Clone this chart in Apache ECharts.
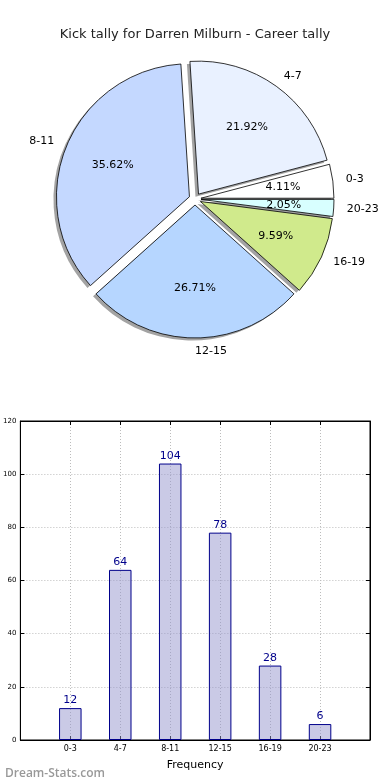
<!DOCTYPE html>
<html><head><meta charset="utf-8">
<script src="https://cdn.jsdelivr.net/npm/echarts@6/dist/echarts.min.js"></script>
<style>html,body{margin:0;padding:0;background:#fff}#c{width:390px;height:780px}</style>
</head><body><div id="c"></div>
<script>
const titleText = 'Kick tally for Darren Milburn - Career tally';
const categories = ['0-3', '4-7', '8-11', '12-15', '16-19', '20-23'];
const kickCounts = [12, 64, 104, 78, 28, 6];
const sliceColors = ['#ffffff', '#e9f1ff', '#c4d8ff', '#b6d6ff', '#d0ea8c', '#d8ffff'];
const yMin = 0, yMax = 120, yStep = 20;
const xAxisName = 'Frequency';
const watermark = 'Dream-Stats.com';

const FONT = 'DejaVu Sans';
const PIE_C = [195, 199], PIE_R = 133, EXPLODE = 6;

const pieData = (extra) => categories.map((c, i) => Object.assign({
  name: c, value: kickCounts[i], selected: true
}, extra ? extra(i) : {}));

const chart = echarts.init(document.getElementById('c'), null, {renderer: 'canvas'});
chart.setOption({
  animation: false,
  title: [
    {text: titleText, left: 'center', top: 23,
     textStyle: {fontFamily: FONT, fontSize: 13, fontWeight: 'normal', color: '#222'}},
    {text: watermark, left: 0, top: 763,
     textStyle: {fontFamily: 'Open Sans', fontSize: 12, fontWeight: 600, color: '#999'}}
  ],
  grid: {left: 19, right: 20, top: 421, bottom: 40, show: true, borderColor: '#000', borderWidth: 1, backgroundColor: 'transparent'},
  xAxis: [
    {type: 'value', min: -1, max: 6, interval: 1, position: 'bottom',
     axisLine: {show: true, onZero: false, lineStyle: {color: '#000'}},
     axisTick: {show: true, inside: true, length: 4, lineStyle: {color: '#000'}},
     axisLabel: {fontFamily: FONT, fontSize: 8, color: '#000', margin: 5,
                 formatter: v => (categories[v] !== undefined ? categories[v] : '')},
     splitLine: {show: true, lineStyle: {color: '#bcbcbc', type: [1, 2], width: 1}},
     name: xAxisName, nameLocation: 'middle', nameGap: 20,
     nameTextStyle: {fontFamily: FONT, fontSize: 11, color: '#000'}},
    {type: 'value', min: -1, max: 6, interval: 1, position: 'top',
     axisLine: {show: true, onZero: false, lineStyle: {color: '#000'}},
     axisTick: {show: true, inside: true, length: 4, lineStyle: {color: '#000'}},
     axisLabel: {show: false}, splitLine: {show: false}}
  ],
  yAxis: [
    {type: 'value', min: yMin, max: yMax, interval: yStep, position: 'left',
     axisLine: {show: true, onZero: false, lineStyle: {color: '#000'}},
     axisTick: {show: true, inside: true, length: 4, lineStyle: {color: '#000'}},
     axisLabel: {fontFamily: FONT, fontSize: 7, color: '#000', margin: 4},
     splitLine: {show: true, lineStyle: {color: '#bcbcbc', type: [1, 2], width: 1}}},
    {type: 'value', min: yMin, max: yMax, interval: yStep, position: 'right',
     axisLine: {show: true, onZero: false, lineStyle: {color: '#000'}},
     axisTick: {show: true, inside: true, length: 4, lineStyle: {color: '#000'}},
     axisLabel: {show: false}, splitLine: {show: false}}
  ],
  series: [
    {type: 'pie', silent: true, center: [PIE_C[0] - 3, PIE_C[1] + 2.5], radius: PIE_R,
     startAngle: 0, clockwise: false, selectedMode: 'multiple', selectedOffset: EXPLODE,
     label: {show: false}, labelLine: {show: false},
     itemStyle: {color: '#a3a3a3', borderWidth: 0},
     select: {itemStyle: {color: '#a3a3a3', borderWidth: 0}},
     data: pieData()},
    {type: 'pie', silent: true, center: PIE_C, radius: PIE_R,
     startAngle: 0, clockwise: false, selectedMode: 'multiple', selectedOffset: EXPLODE,
     avoidLabelOverlap: false,
     label: {show: true, position: 'outside', formatter: '{b}', fontFamily: FONT, fontSize: 11, color: '#000', distanceToLabelLine: 0},
     labelLine: {show: false, length: 13, length2: 0},
     labelLayout: p => (p.dataIndex === 3 ? {align: 'left'} : {}),
     itemStyle: {borderColor: '#000', borderWidth: 0.8},
     data: pieData(i => ({itemStyle: {color: sliceColors[i]}, select: {itemStyle: {color: sliceColors[i], borderColor: '#000', borderWidth: 0.8}}}))},
    {type: 'pie', silent: true, center: PIE_C, radius: [PIE_R * 0.2, PIE_R],
     startAngle: 0, clockwise: false, selectedMode: 'multiple', selectedOffset: EXPLODE,
     avoidLabelOverlap: false,
     label: {show: true, position: 'inside', formatter: '{d}%', fontFamily: FONT, fontSize: 11, color: '#000'},
     labelLine: {show: false},
     itemStyle: {color: 'rgba(0,0,0,0)', borderWidth: 0},
     select: {itemStyle: {color: 'rgba(0,0,0,0)', borderWidth: 0}},
     data: pieData()},
    {type: 'bar', xAxisIndex: 0, yAxisIndex: 0, barWidth: 22.5,
     itemStyle: {color: 'rgba(150,150,205,0.5)', borderColor: '#00008b', borderWidth: 1},
     label: {show: true, position: 'top', distance: 2, fontFamily: FONT, fontSize: 11, color: '#00008b'},
     data: kickCounts.map((v, i) => [i, v])}
  ]
});
</script></body></html>
